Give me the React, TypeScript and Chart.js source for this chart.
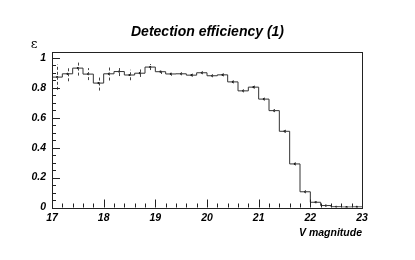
import React, { useEffect, useRef } from "react";
import { Chart, registerables } from "chart.js";

Chart.register(...registerables);

const TITLE = "Detection efficiency (1)";
const X_TITLE = "V magnitude";
const Y_TITLE = "ε";

const binLow = [
  17.0, 17.2, 17.4, 17.6, 17.8, 18.0, 18.2, 18.4, 18.6, 18.8,
  19.0, 19.2, 19.4, 19.6, 19.8, 20.0, 20.2, 20.4, 20.6, 20.8,
  21.0, 21.2, 21.4, 21.6, 21.8, 22.0, 22.2, 22.4, 22.6, 22.8,
];
const binWidth = 0.2;

const efficiency = [
  0.871, 0.893, 0.931, 0.891, 0.831, 0.893, 0.908, 0.885, 0.897, 0.938,
  0.907, 0.892, 0.893, 0.884, 0.9, 0.88, 0.886, 0.839, 0.779, 0.804,
  0.724, 0.647, 0.509, 0.291, 0.105, 0.035, 0.013, 0.005, 0.003, 0.004,
];

const errors = [
  0.085, 0.05, 0.05, 0.04, 0.05, 0.045, 0.03, 0.035, 0.025, 0.02,
  0.015, 0.012, 0.01, 0.01, 0.01, 0.01, 0.01, 0.01, 0.01, 0.01,
  0.01, 0.01, 0.01, 0.01, 0.01, 0.006, 0.004, 0.003, 0.002, 0.002,
];

const xTicks = [17, 18, 19, 20, 21, 22, 23];
const yTicks = [0, 0.2, 0.4, 0.6, 0.8, 1];
const yTickLabels = ["0", "0.2", "0.4", "0.6", "0.8", "1"];

const FONT = "'Liberation Sans', Arial, Helvetica, sans-serif";

const rootPlugin = {
  id: "rootStyle",
  afterDatasetsDraw(chart: any) {
    const { ctx, scales } = chart;
    const xs = scales.x;
    const ys = scales.y;
    ctx.save();
    ctx.strokeStyle = "#444";
    ctx.lineWidth = 1;
    ctx.setLineDash([3, 2]);
    for (let i = 0; i < binLow.length; i++) {
      const c = binLow[i] + binWidth / 2;
      const px = Math.round(xs.getPixelForValue(c)) + 0.5;
      const y1 = ys.getPixelForValue(Math.max(0, efficiency[i] - errors[i]));
      const y2 = ys.getPixelForValue(efficiency[i] + errors[i]);
      ctx.beginPath();
      ctx.moveTo(px, y1);
      ctx.lineTo(px, y2);
      ctx.stroke();
    }
    ctx.setLineDash([]);
    ctx.restore();
  },
  afterDraw(chart: any) {
    const { ctx, chartArea, scales } = chart;
    const xs = scales.x;
    const ys = scales.y;
    const { left, right, top, bottom } = chartArea;
    ctx.save();
    ctx.strokeStyle = "#222";
    ctx.lineWidth = 1;
    ctx.strokeRect(Math.round(left) + 0.5, Math.round(top) + 0.5, Math.round(right - left), Math.round(bottom - top));
    for (let k = 0; k <= 30; k++) {
      const v = 17 + k * 0.2;
      const px = Math.round(xs.getPixelForValue(v)) + 0.5;
      const len = k % 5 === 0 ? 8 : 4;
      ctx.beginPath();
      ctx.moveTo(px, bottom);
      ctx.lineTo(px, bottom - len);
      ctx.stroke();
    }
    for (let k = 0; k <= 20; k++) {
      const v = k * 0.05;
      const py = Math.round(ys.getPixelForValue(v)) + 0.5;
      const len = k % 4 === 0 ? 8 : 4;
      ctx.beginPath();
      ctx.moveTo(left, py);
      ctx.lineTo(left + len, py);
      ctx.stroke();
    }
    ctx.fillStyle = "#000";
    ctx.font = "13px 'DejaVu Serif', 'Liberation Serif', serif";
    ctx.textAlign = "center";
    ctx.textBaseline = "middle";
    ctx.fillText(Y_TITLE, 34, 45);
    ctx.restore();
  },
};

export default function App() {
  const ref = useRef<HTMLCanvasElement | null>(null);
  useEffect(() => {
    if (!ref.current) return;
    const stepData = binLow.map((x, i) => ({ x, y: efficiency[i] }));
    stepData.push({ x: binLow[binLow.length - 1] + binWidth, y: efficiency[efficiency.length - 1] });
    const markers = binLow.map((x, i) => ({ x: x + binWidth / 2, y: efficiency[i] }));
    const tickFont = { family: FONT, size: 10.5, weight: "bold" as const, style: "italic" as const };
    const chart = new Chart(ref.current, {
      type: "line",
      data: {
        datasets: [
          {
            data: stepData,
            stepped: true,
            borderColor: "#333",
            borderWidth: 1,
            pointRadius: 0,
            fill: false,
          },
          {
            data: markers,
            showLine: false,
            pointRadius: 1.1,
            pointBackgroundColor: "#000",
            pointBorderWidth: 0,
          },
        ],
      },
      options: {
        animation: false,
        responsive: false,
        layout: { padding: { left: 0, right: 0, top: 0, bottom: 0 } },
        plugins: {
          legend: { display: false },
          tooltip: { enabled: false },
          title: {
            display: true,
            text: TITLE,
            color: "#000",
            font: { family: FONT, size: 14, weight: "bold", style: "italic" },
            padding: { top: 24, bottom: 11 },
          },
        },
        scales: {
          x: {
            type: "linear",
            min: 17,
            max: 23,
            border: { display: false },
            grid: { display: false, drawTicks: false },
            afterBuildTicks: (s: any) => {
              s.ticks = xTicks.map((v) => ({ value: v }));
            },
            afterFit: (s: any) => {
              s.height = 52.5;
            },
            ticks: { color: "#000", font: tickFont, padding: 4, maxRotation: 0, autoSkip: false },
            title: {
              display: true,
              text: X_TITLE,
              align: "end",
              color: "#000",
              font: tickFont,
              padding: { top: 2, bottom: 21 },
            },
          },
          y: {
            type: "linear",
            min: 0,
            max: 1.04,
            border: { display: false },
            grid: { display: false, drawTicks: false },
            afterBuildTicks: (s: any) => {
              s.ticks = yTicks.map((v) => ({ value: v }));
            },
            afterFit: (s: any) => {
              s.width = 52;
            },
            ticks: {
              color: "#000",
              font: tickFont,
              padding: 6,
              callback: (_v: any, i: number) => yTickLabels[i],
            },
          },
          yRight: {
            type: "linear",
            position: "right",
            min: 0,
            max: 1,
            border: { display: false },
            grid: { display: false, drawTicks: false },
            ticks: { display: false },
            afterFit: (s: any) => {
              s.width = 53;
            },
          },
        },
      },
      plugins: [rootPlugin],
    });
    return () => chart.destroy();
  }, []);
  return (
    <div style={{ position: "absolute", left: 0, top: 0, width: 415, height: 260, background: "#fff" }}>
      <canvas ref={ref} width={415} height={260} />
    </div>
  );
}
